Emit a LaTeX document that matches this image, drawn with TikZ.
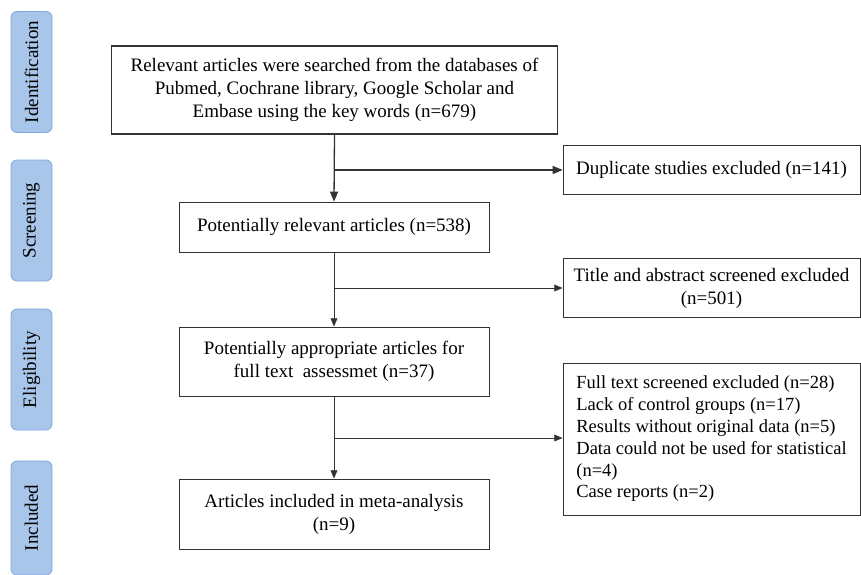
\documentclass[tikz,border=0pt]{standalone}
\usepackage{fontspec}
\setmainfont{Liberation Serif}
\usetikzlibrary{arrows}
\definecolor{tabfill}{HTML}{A8C5EA}
\definecolor{tabline}{HTML}{7EA7DB}
\definecolor{boxline}{HTML}{333333}

\begin{document}
\begin{tikzpicture}[x=1pt,y=-1pt]
\tikzstyle{every node}=[font=\fontsize{19}{23}\selectfont, inner sep=0pt]
\tikzstyle{box}=[draw=boxline, line width=.9pt, rectangle, align=center, minimum width=310pt]
\tikzstyle{sidebox}=[draw=boxline, line width=.9pt, rectangle, minimum width=297pt]
\tikzstyle{tab}=[draw=tabline, fill=tabfill, line width=.8pt, rounded corners=6pt, minimum width=121pt, minimum height=41pt, rotate=90]
\tikzstyle{flow}=[draw=boxline, line width=.9pt, -triangle 45]
\useasboundingbox (0,0) rectangle (861,574);
% stage tabs
\draw (31.5,72) node (ident) [tab] {Identification};
\draw (31.5,220.5) node (screen) [tab] {Screening};
\draw (31.5,369.5) node (elig) [tab] {Eligibility};
\draw (31.5,518) node (incl) [tab, minimum width=114pt] {Included};
% main column
\draw (334.5,90) node (search) [box, line width=1.3pt, minimum width=446pt, minimum height=88pt] {Relevant articles were searched from the databases of\\ Pubmed, Cochrane library, Google Scholar and\\ Embase using the key words (n=679)};
\draw (334,227) node (relevant) [box, minimum height=50pt] {Potentially relevant articles (n=538)};
\draw (334,361.5) node (approp) [box, minimum height=69pt] {Potentially appropriate articles for\\ full text~ assessmet (n=37)};
\draw (334,514) node (included) [box, minimum height=70pt] {Articles included in meta-analysis\\ (n=9)};
% excluded column
\draw (711.5,170) node (dup) [sidebox, minimum height=49pt] {Duplicate studies excluded (n=141)};
\draw (711.5,288) node (title) [sidebox, align=center, minimum height=59pt] {Title and abstract screened excluded\\ (n=501)};
\draw (711.5,439) node (fulltext) [sidebox, align=left, minimum height=152pt, font=\fontsize{18.5}{21.8}\selectfont] {Full text screened excluded (n=28)\\ Lack of control groups (n=17)\\ Results without original data (n=5)\\ Data could not be used for statistical\\ (n=4)\\ Case reports (n=2)};
% branch points
\coordinate (b1) at (334,170);
\coordinate (b2) at (334,288);
\coordinate (b3) at (334,438);
\draw [flow, line width=1.3pt] (search.south) -- (relevant.north);
\draw [flow, line width=1.3pt] (b1) -- (b1 -| dup.west);
\draw [flow] (relevant.south) -- (approp.north);
\draw [flow] (b2) -- (b2 -| title.west);
\draw [flow] (approp.south) -- (included.north);
\draw [flow] (b3) -- (b3 -| fulltext.west);
\end{tikzpicture}
\end{document}
